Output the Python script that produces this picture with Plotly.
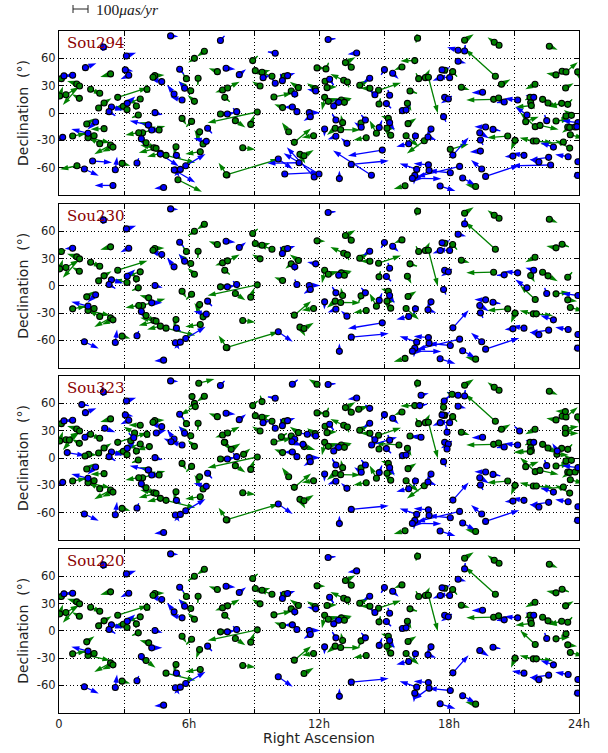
import plotly.graph_objects as go

# Sources: RA (hours), Dec (degrees), proper motion (uas/yr).
# *_panels: the panels (1=Sou294, 2=Sou230, 3=Sou323, 4=Sou220) a source appears in.
blue_ra = [2.05,3.11,5.15,7.45,9.98,1.22,3.06,3.22,0.63,0.23,
5.57,7.71,8.32,9.42,10.31,10.55,4.74,5.8,5.31,5.68,
9.98,10.88,11.85,3.15,2.42,2.31,4.43,7.77,8.2,10.77,
10.98,11.55,11.6,1.69,1.34,0.17,4.12,4.28,3.8,6.86,
6.8,5.42,4.68,1.55,3.6,2.6,1.17,2.49,4.83,5.37,
5.6,5.32,5.85,10.12,10.42,11.08,11.78,12.0,
12.42,13.74,18.42,18.72,18.42,15.02,15.4,17.68,17.6,18.03,
12.49,14.34,19.55,14.58,15.26,17.8,17.97,12.68,12.91,20.55,
21.17,21.91,15.11,15.85,16.02,17.75,12.78,14.14,14.78,15.26,
13.95,12.26,17.17,20.03,19.69,16.45,17.03,12.78,13.29,16.14,
19.42,19.45,14.92,18.18,19.45,13.49,14.42,12.94,17.05,17.08,
16.51,16.42,16.31,18.49,18.06,17.59,18.63,19.51,19.69,22.69,
21.46,20.95,22.6,22.15,23.5,22.82,23.95,23.94,21.6,22.51,
23.95,23.9,
1.05,2.11,1.2,0.38,3.45,4.49,5.17,10.75,11.26,11.46,10.77,16.71,16.65,17.78,14.34,17.91,16.71,14.43,21.26,23,17.91]
blue_dec = [72.5,62.6,84.6,79.5,65.6,49.8,47.3,41.4,41.4,40.7,
48,49.1,42.1,38.8,35.5,41,34.4,27.1,20.9,14.3,
32.6,20.9,24.2,10.6,6.6,1.5,0.4,-1.1,1.5,6.6,
1.5,0.4,-4,-9.9,-22.3,-26.7,-13.2,-18.7,-28.2,-16.8,
-31.1,-46.5,-45.1,-52.7,-54.9,-62.3,-61.5,-79.5,-81.7,-62.6,
-61.9,-62.6,-57.9,-50.5,-67,-54.6,-70.3,-67,
80.6,65.9,68.9,68.1,56.8,47.6,43.6,47.3,38.8,38.8,
37,38.1,22.7,20.1,19.4,17.2,15.4,7.7,11.7,12.1,
14.3,17.2,10.3,2.6,3.3,-4,-7.7,-7.7,-16,-10.6,
-15.7,-17.6,-17.6,-18,-15.4,-25.3,-26.4,-25.6,-33.3,-33.7,
-21.6,-29.7,-40.7,-46.2,-41.8,-56.4,-68.4,-72,-56.9,-63,
-61.9,-68.5,-71.8,-58.6,-65.6,-80.2,-71.4,-61.5,-69.6,-57.1,
-46.5,-47.3,-48.7,-53.8,-48,-37.4,-53.5,-68.5,-2.2,-8.4,
-10.6,-15,
58.6,32.6,22.7,5.9,22.3,27.5,17.9,17.9,15,26,81,68.9,57.5,62.6,54.5,28.2,22.7,14.3,29.7,7.7,9.9]
blue_pm_ra = [-9,62,49,26,-47,70,51,-53,-51,47,
26,60,43,47,-13,49,-72,-38,-45,-75,
-21,-17,-55,51,75,40,49,51,-23,-55,
-13,70,-43,-51,-107,-32,-119,68,32,28,
-81,26,117,124,11,11,92,-117,-60,26,
-38,134,126,92,217,-202,-175,-226,
47,-58,-70,4,51,-21,38,53,-49,-81,
26,-43,-70,-34,-11,47,-47,17,32,-47,
-85,-53,30,30,28,15,-23,-26,17,32,
-45,-2,-30,47,-72,-11,53,-53,-38,-79,
58,17,-219,100,-68,239,-245,0,-94,-98,
-109,-6,185,-273,-138,98,81,-68,215,-247,
-77,-53,-121,-60,-83,-83,36,28,-75,-13,
-102,-64,
45,68,23,115,-32,64,-47,64,21,-34,34,49,47,34,-28,-6,-68,162,-32,-32,-21]
blue_pm_dec = [28,21,-4,30,9,28,-9,-26,-4,4,
-30,-6,34,15,43,17,19,47,58,21,
32,26,11,43,-21,-26,-15,9,21,-2,
32,0,-28,-47,28,-17,28,0,-51,-32,
19,-19,-77,-9,30,83,-43,0,-6,-43,
-43,-79,75,-64,9,-4,190,132,
6,-9,19,38,-13,-34,-36,15,-19,6,
-38,-28,-2,30,34,6,-28,43,15,-4,
9,15,-30,9,38,-32,38,32,45,-51,
32,-49,-49,-9,2,-30,-19,-21,34,-19,
-36,-32,-36,113,-6,23,158,51,9,-72,
38,-58,-2,-66,13,-32,-45,58,72,-4,
13,-4,-17,17,15,28,-4,-9,53,36,
13,11,
-6,-26,36,-19,28,19,21,-26,-26,6,28,13,9,34,21,47,9,49,28,49,36]
blue_panels = [1234,1234,1234,13,13,13,13,1234,1234,134,
1234,1234,1234,13,1234,1234,1234,1234,1234,134,
13,1234,1234,1234,1234,1234,1234,1234,1234,134,
1234,1234,1234,123,1234,13,13,1234,1234,1234,
123,1234,1,1,1234,1234,1234,1,1234,1234,
1234,1,1234,1234,1,1,1,1,
1234,134,13,1234,1234,1234,1234,1234,1234,1234,
134,1234,134,134,1234,1234,1234,134,1234,1234,
1234,1234,1234,134,134,123,1234,1234,1234,1234,
13,1234,1234,1234,123,1234,1234,123,123,1234,
1234,123,12,1234,1,1234,1,1234,1234,1234,
1234,1234,123,123,1234,1234,1234,123,123,1,
1234,123,1234,1234,1234,1234,1234,1234,12,1234,
123,1,
3,3,3,3,3,3,3,3,3,3,3,3,3,3,3,3,3,3,3,3,3]

green_ra = [0.11,0.82,0.95,0.03,0.32,0.94,1.46,1.88,2.38,2.71,
4.06,1.83,2.08,2.97,3.14,3.57,3.75,3.66,4.42,4.34,
5.68,6.12,5.88,6.08,6.25,6.25,6.71,6.42,7.31,7.55,
7.78,7.65,8.94,9.06,9.37,9.83,9.28,9.92,10.72,11.05,
10.4,11.91,11.83,10.32,7.45,9.15,8.14,8.85,8.48,7.75,
7.72,10.6,10.86,11.75,11.12,11.31,2.08,1.28,0.63,1.62,
1.34,1.88,2.38,2.49,0.83,2.91,4.14,3.86,3.68,4.62,
4.02,4.38,4.48,4.68,4.94,5.4,6.52,6.49,6.65,5.49,
16.55,18.72,20.09,20.31,22.63,16.42,13.22,13.49,12.32,15.83,
20.14,20.42,22.94,23.22,23.4,23.94,16.6,16.91,17.05,17.8,
18.17,12.28,13.14,13.31,12.37,13.88,14.35,14.75,16.2,18.57,
21.97,23.38,12.26,12.43,13.03,13.17,14.77,16.08,20.06,20.29,
21.74,21.77,21.8,22.32,22.57,23.2,23.48,15.2,13.09,12.75,
13,13.94,14.65,15.14,15.31,14.18,16.11,16.02,16.86,20.71,
18.06,21.05,21.89,22.03,23.28,23.57,21.54,21.98,22.2,22.94,
23.4,23.65,23.48,23.6,23.57,23.82,15.97,19.23,
6.45,11.91,6.14,6.29,9.37,10.26,4.17,3.31,3.49,3.75,0.48,1.37,1.2,7.95,8.52,7.63,11.32,13.83,18.14,17.75,17.75,23.37,23.37,23.37,15.69,21.75,22.98]
green_dec = [37.7,31.9,29.7,18.7,20.1,16.1,26,21.6,42.9,17.2,
26,5.5,11,7.3,3.7,7.7,15.4,-2.2,41,39.2,
-5.9,-9.2,37.7,24.5,12.8,60,67.8,38.1,45.4,25.3,
27.5,17.2,57.5,46.5,44.7,40.3,29.7,17.6,24.2,27.8,
40.3,49.5,26.7,5.9,-1.1,1.1,-8.4,-12.5,-38.1,-68.1,
-67.8,-20.5,-32.2,-24.9,-45.4,-46.9,-17.2,-12.1,-25.3,-24.9,
-27.1,-33.7,-35.2,-37.4,-57.9,-55.3,-13.2,-21.6,-21.6,-18.7,
-32.6,-38.1,-38.8,-44.3,-46.5,-37,-42.5,-20.5,-34.1,-73.3,
82.1,79.9,77.6,74.4,73.3,57.5,55.3,50.2,48.4,50.5,
40.3,31.5,41.8,45.8,45.1,45.1,37.7,38.8,39.2,46.9,
45.4,34.8,35.9,34.1,27.8,30.4,27.1,24.9,24.2,28.2,
31.5,27.5,17.2,12.8,14.3,11.7,9.9,10.6,15,16.5,
17.2,11.4,8.1,15,11,10.6,9.5,-5.9,-10.6,-16.8,
-18.3,-11,-22.3,-16.8,-24.5,-27.1,-11.7,-24.9,-30.4,-25.3,
-39.9,-30,-30.8,-30.8,-31.9,-38.5,-9.5,-15,-13.6,-8.8,
-3.3,-2.6,-15.4,-23.8,-15.8,-15.4,-79.8,-80.6,
82.1,81,67.4,56.4,61.9,23.4,12.5,19,27.5,35.9,19.8,4,2.2,9.5,4,17.2,12.5,53.5,69.9,55.7,46.9,50.9,32.6,27.1,14.3,7,4]
green_pm_ra = [26,-62,-107,21,81,-47,72,-49,-66,190,
-6,32,47,-62,-85,-13,-89,-40,62,26,
28,-34,-21,-77,-43,-40,-47,-2,-55,-47,
77,32,32,64,53,-85,-51,115,-38,-55,
-30,53,-53,-53,64,-317,64,23,81,-53,
334,-43,107,-75,34,62,-87,49,87,-87,
143,-70,-104,-70,-107,53,-58,145,-85,-77,
60,-87,-111,-85,187,-15,-96,-23,-55,153,
-11,58,-43,-34,53,-92,64,-38,17,-49,
-192,58,-62,43,75,17,-17,28,60,-28,
28,55,-85,9,64,58,-62,143,45,53,
-62,51,-17,66,68,38,9,26,-175,36,
-30,26,-102,49,62,-83,28,-47,-11,-53,
126,-15,-43,53,-45,-81,53,81,-111,-132,
117,-26,-87,107,-147,-92,83,-96,119,87,
17,-49,60,85,-49,55,-72,-66,
100,-53,11,-96,-11,36,-79,40,-70,-75,60,53,30,58,43,38,70,64,-32,-21,-21,-64,85,85,-149,-107,75]
green_pm_dec = [9,19,-121,60,47,26,-32,21,-19,60,
28,34,30,-13,19,28,-28,-17,4,21,
-43,-34,30,58,40,-28,-34,-43,21,-17,
40,-28,30,-30,13,30,28,23,-32,38,
-23,-2,34,21,4,-68,-43,60,-11,79,
100,58,89,-11,-58,36,-4,36,17,15,
-32,40,-58,-30,-23,-15,17,43,-15,17,
-47,17,-28,-21,-47,-53,-15,-58,89,-77,
-28,38,32,23,-23,-2,34,47,40,-19,
173,32,11,-17,62,-55,34,53,-230,13,
-32,26,40,-34,6,34,0,49,-15,-17,
-32,30,-83,19,11,19,36,-49,-4,-45,
-17,-43,-11,-26,-34,-21,32,15,49,-43,
-2,-40,81,0,45,-15,34,-70,-81,-11,
34,-62,21,-11,-13,51,32,89,-26,11,
17,34,-9,-23,-34,23,-21,13,
26,32,-32,-53,38,21,-21,26,40,2,43,-4,17,38,38,-49,-21,21,13,26,28,4,11,0,11,-4,-4]
green_panels = [1234,1234,1234,1234,1234,1234,1234,1234,1234,1234,
134,1234,1234,134,1234,1234,1234,1234,1234,1234,
1234,1234,1234,1234,1234,1234,1234,1234,1234,1234,
1234,1234,1234,1234,1234,1234,1234,134,1234,1234,
1234,1234,134,1234,1234,1234,1234,1234,1234,123,
123,13,1234,1234,123,1234,13,1234,1234,1234,
1234,123,1234,1234,1,1234,1234,123,123,13,
1234,123,123,123,1234,1234,1234,1234,123,1,
1234,1234,1234,1234,1234,13,1234,1234,13,1234,
1234,13,1234,1234,13,13,1234,1234,1234,1234,
1234,13,1234,1234,134,1234,1234,1234,1234,1234,
1234,134,1234,1234,1234,1234,1234,1234,1234,134,
134,1234,134,1234,1234,134,1234,1234,1234,1234,
1234,1234,123,1234,1234,1234,1234,1234,13,123,
1,1234,1234,1234,13,13,13,1234,13,1234,
134,13,1234,1234,13,13,123,1234,
3,3,3,3,3,3,3,3,3,3,3,3,3,3,3,3,3,3,3,3,3,3,3,3,3,3,3]

panel_names = ["Sou294", "Sou230", "Sou323", "Sou220"]
x_ticks = [0, 3, 6, 9, 12, 15, 18, 21, 24]
x_tick_labels = ["0", "", "6h", "", "12h", "", "18h", "", "24h"]
y_ticks = [-60, -30, 0, 30, 60]
y_tick_labels = ["-60", "-30", "0", "30", "60"]

for col in (blue_dec, blue_pm_ra, blue_pm_dec, blue_panels):
    assert len(col) == len(blue_ra), len(col)
for col in (green_dec, green_pm_ra, green_pm_dec, green_panels):
    assert len(col) == len(green_ra), len(col)

W, H = 608, 753
ML, MR, MT, MB = 59, 29, 31, 40
plot_h = H - MT - MB
plot_w = W - ML - MR
tops = [31, 204, 376, 549]
bottoms = [195, 367.7, 540, 712.7]
HOURS_PER_UAS = 0.00723   # quiver scale: 100 uas/yr spans 15.7 px
DEG_PER_UAS = 0.172

BLUE = "#0000ff"
GREEN = "#008000"
FONT = "DejaVu Sans"
INK = "#222222"

fig = go.Figure()


def add_sources(idx, ra, dec, pmr, pmd, panels, color):
    tag = str(idx + 1)
    keep = [i for i in range(len(ra)) if tag in str(panels[i])]
    xs, ys, sizes = [], [], []
    for i in keep:
        xs += [ra[i], ra[i] + pmr[i] * HOURS_PER_UAS, None]
        ys += [dec[i], dec[i] + pmd[i] * DEG_PER_UAS, None]
        sizes += [0, 8.5, 0]
    suffix = "" if idx == 0 else str(idx + 1)
    fig.add_trace(go.Scatter(
        x=xs, y=ys, mode="lines+markers", xaxis="x" + suffix, yaxis="y" + suffix,
        line=dict(color=color, width=1.3), connectgaps=False, showlegend=False,
        marker=dict(symbol="arrow", size=sizes, color=color, opacity=1, angleref="previous", line=dict(width=0)),
        hoverinfo="skip"))


for idx in range(4):
    add_sources(idx, green_ra, green_dec, green_pm_ra, green_pm_dec, green_panels, GREEN)
    add_sources(idx, blue_ra, blue_dec, blue_pm_ra, blue_pm_dec, blue_panels, BLUE)
    suffix = "" if idx == 0 else str(idx + 1)
    tag = str(idx + 1)
    for ra, dec, panels, color in ((green_ra, green_dec, green_panels, GREEN),
                                   (blue_ra, blue_dec, blue_panels, BLUE)):
        keep = [i for i in range(len(ra)) if tag in str(panels[i])]
        fig.add_trace(go.Scatter(
            x=[ra[i] for i in keep], y=[dec[i] for i in keep], mode="markers",
            xaxis="x" + suffix, yaxis="y" + suffix, showlegend=False, hoverinfo="skip",
            marker=dict(size=6, color=color, line=dict(color="black", width=1.1))))

layout = dict(
    width=W, height=H, autosize=False, paper_bgcolor="white", plot_bgcolor="white",
    margin=dict(l=ML, r=MR, t=MT, b=MB, pad=0), showlegend=False,
    font=dict(family=FONT, size=11, color=INK),
)
annotations = []
for idx in range(4):
    suffix = "" if idx == 0 else str(idx + 1)
    dom = [1 - (bottoms[idx] - MT) / plot_h, 1 - (tops[idx] - MT) / plot_h]
    xa = dict(domain=[0, 1], range=[0, 24], tickmode="array", tickvals=x_ticks, ticktext=x_tick_labels,
              ticks="inside", ticklen=4, tickcolor="black", mirror="allticks", showline=True,
              linecolor="black", linewidth=1.2, showgrid=True, gridcolor="black", gridwidth=1,
              griddash="1px,2.5px", zeroline=False, anchor="y" + suffix, automargin=False,
              showticklabels=idx == 3, tickfont=dict(size=11.5, family=FONT, color=INK))
    ya = dict(domain=dom, range=[-90, 90], tickmode="array", tickvals=y_ticks, ticktext=y_tick_labels,
              ticks="inside", ticklen=4, tickcolor="black", mirror="allticks", showline=True,
              linecolor="black", linewidth=1.2, showgrid=True, gridcolor="black", gridwidth=1,
              griddash="1px,2.5px", zeroline=False, anchor="x" + suffix, automargin=False,
              tickfont=dict(size=11.5, family=FONT, color=INK))
    layout["xaxis" + suffix] = xa
    layout["yaxis" + suffix] = ya
    annotations.append(dict(x=0.28, y=77, xref="x" + suffix, yref="y" + suffix, text=panel_names[idx],
                            showarrow=False, xanchor="left", yanchor="middle",
                            font=dict(family="DejaVu Serif", size=15, color="#8b0000")))
    annotations.append(dict(x=(23 - ML) / plot_w, y=sum(dom) / 2, xref="paper", yref="paper",
                            text="Declination  (\u00b0)", textangle=-90, showarrow=False,
                            xanchor="center", yanchor="middle", font=dict(size=14, family=FONT, color=INK)))
annotations.append(dict(x=0.5, y=1 - (738 - MT) / plot_h, xref="paper", yref="paper", text="Right Ascension",
                        showarrow=False, xanchor="center", yanchor="middle", font=dict(size=14, family=FONT, color=INK)))

# 100 uas/yr key above the first panel
key_y = 1 + 22 / plot_h
annotations.append(dict(x=(94 - ML) / plot_w, y=key_y, xref="paper", yref="paper",
                        text="100<i>\u03bcas/yr</i>", showarrow=False, xanchor="left", yanchor="middle",
                        font=dict(family="Liberation Serif", size=15.5, color=INK)))
key_x0 = (73 - ML) / plot_w
key_x1 = (88 - ML) / plot_w
cap = 4 / plot_h
shapes = [dict(type="line", xref="paper", yref="paper", x0=key_x0, x1=key_x1, y0=key_y, y1=key_y,
               line=dict(color=INK, width=1)),
          dict(type="line", xref="paper", yref="paper", x0=key_x0, x1=key_x0, y0=key_y - cap, y1=key_y + cap,
               line=dict(color=INK, width=1)),
          dict(type="line", xref="paper", yref="paper", x0=key_x1, x1=key_x1, y0=key_y - cap, y1=key_y + cap,
               line=dict(color=INK, width=1))]
layout["annotations"] = annotations
layout["shapes"] = shapes
fig.update_layout(**layout)
fig.write_html("out.html", config={"displayModeBar": False},
               post_script="document.body.style.margin='0';")
